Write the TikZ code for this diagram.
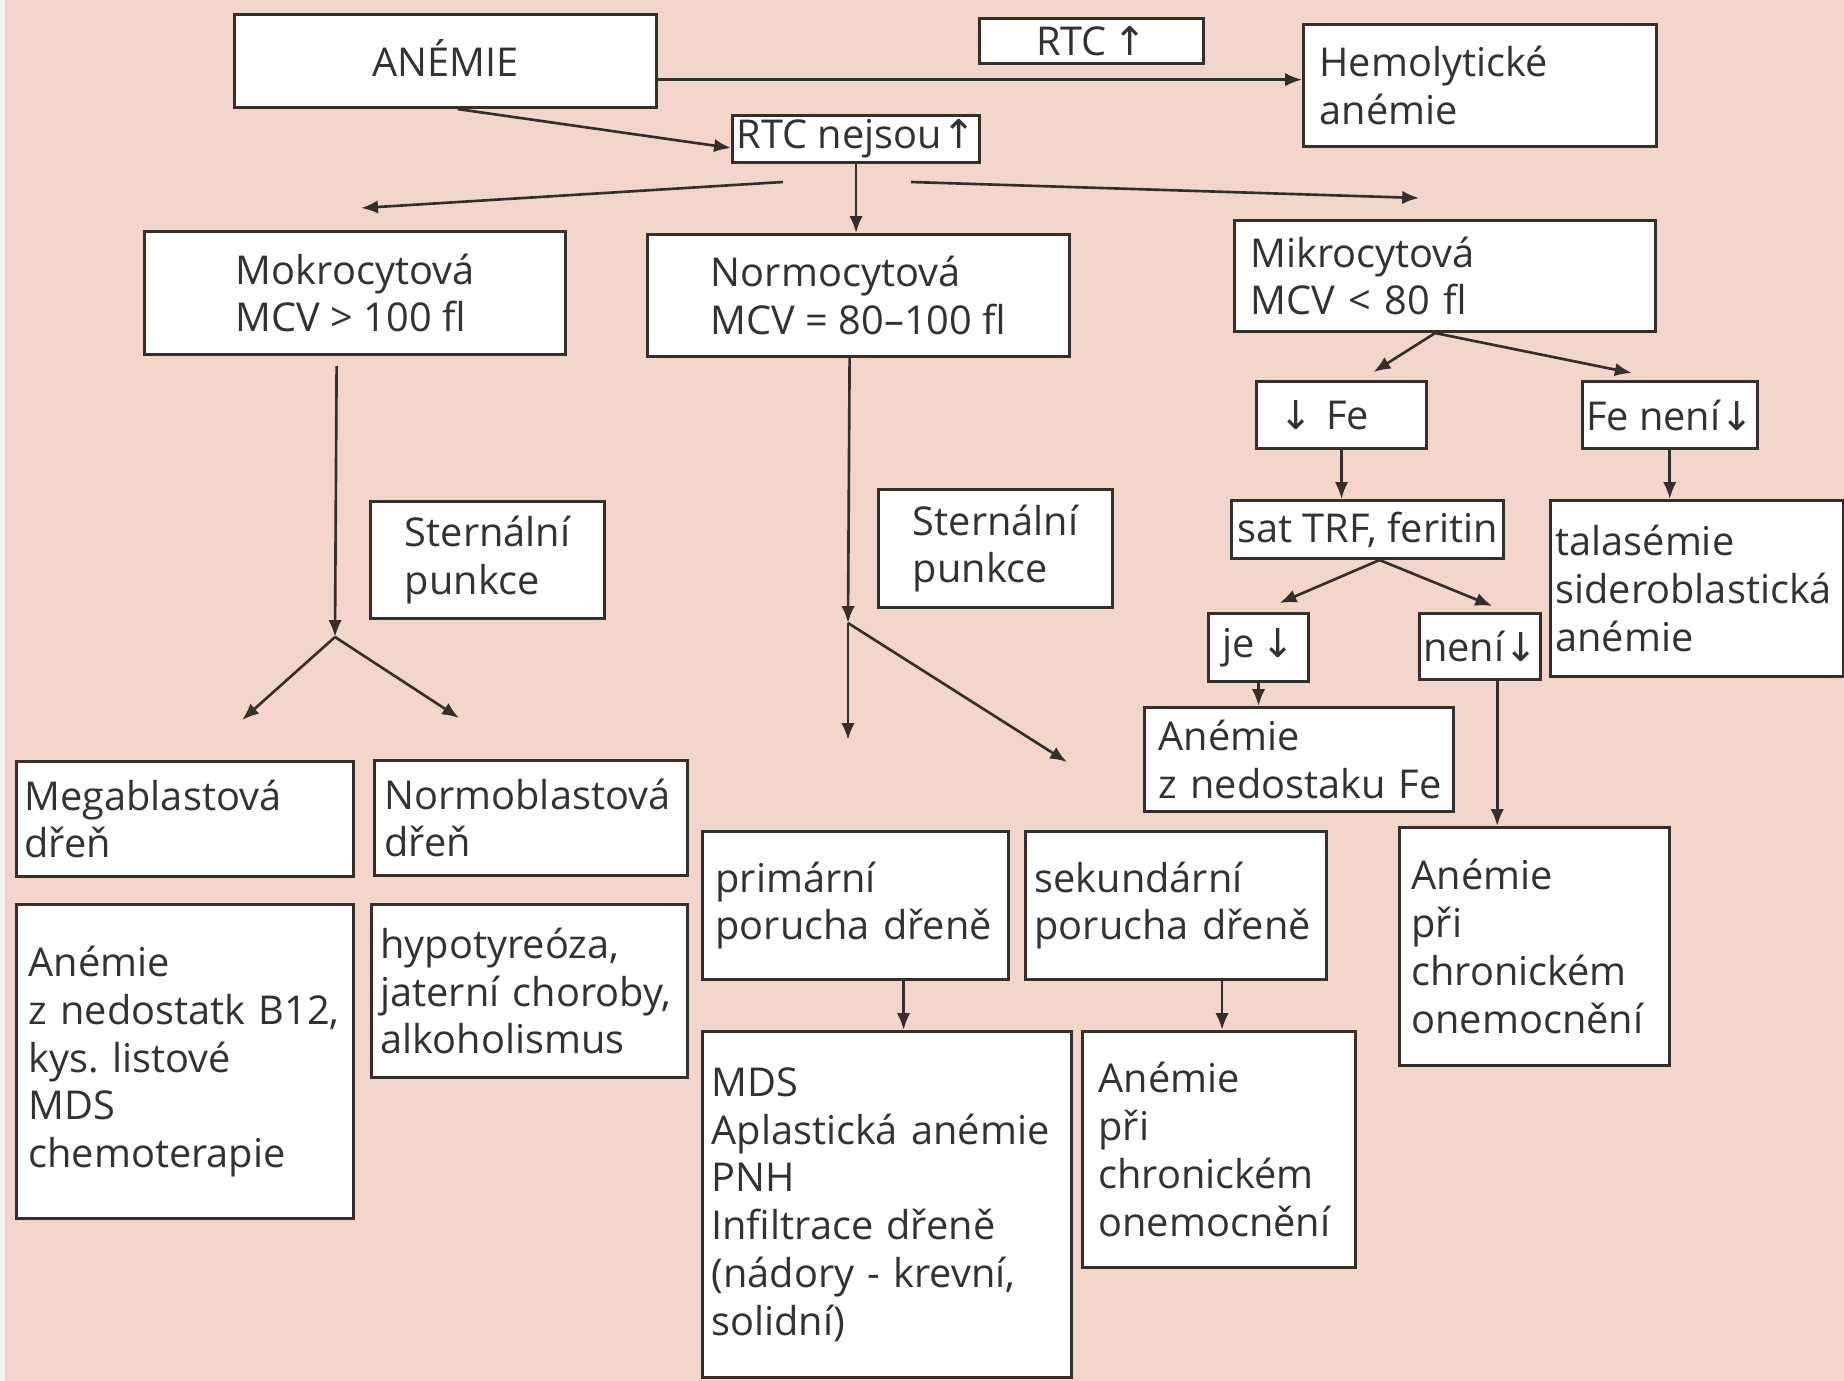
\documentclass[tikz,border=0pt]{standalone}
\usepackage{fontspec}
\setmainfont{Open Sans}
\newfontfamily\arrowfont{DejaVu Sans}
\usepackage{tikz}
\usetikzlibrary{arrows.meta}
\usetikzlibrary{calc}

\definecolor{bgpink}{RGB}{242,213,203}
\definecolor{stripgrey}{RGB}{244,243,239}
\definecolor{edge}{RGB}{55,45,42}
\definecolor{ink}{RGB}{50,50,50}
\newcommand{\arrup}{{\arrowfont ↑}}
\newcommand{\arrdn}{{\arrowfont ↓}}
\hyphenpenalty=10000
\exhyphenpenalty=10000

\tikzset{
	box/.style={draw=edge, line width=0.85pt, fill=white, text=ink, anchor=north west,
		font=\fontsize{11.3pt}{13.6pt}\selectfont, inner sep=1pt, align=left},
	lbox/.style 2 args={box, inner xsep=#1, text width=#2},
}

\begin{document}
\begin{tikzpicture}[x=0.01cm, y=-0.01cm, color=edge, line width=0.75pt,
	>={Latex[length=4.8pt,width=3.8pt]}]
	\fill[bgpink] (0,0) rectangle (1844,1381);
	\fill[stripgrey] (0,0) rectangle (5,1381);
	\useasboundingbox (0,0) rectangle (1844,1381);

	% top row
	\node[box, minimum width=4.22cm, minimum height=0.93cm] (anemie) at (233,13) {\raisebox{2pt}{ANÉMIE}};
	\node[box, minimum width=2.24cm, minimum height=0.45cm] (rtcup) at (978,17) {RTC\,\arrup};
	\node[lbox={0.16cm}{3.21cm}, minimum height=1.22cm] (hemo) at (1302,23) {Hemolytické\\anémie};
	\node[box, minimum width=2.47cm, minimum height=0.47cm] (rtcno) at (731,114) {RTC nejsou\arrup};

	% MCV
	\node[box, minimum width=4.21cm, minimum height=1.23cm] (mokro) at (143,230) {Mokrocytová\\MCV > 100 fl};
	\node[box, minimum width=4.22cm, minimum height=1.22cm] (normo) at (646,233) {Normocytová\\MCV = 80–100 fl};
	\node[lbox={0.16cm}{3.89cm}, minimum height=1.11cm] (mikro) at (1233,219) {Mikrocytová\\MCV < 80 fl};

	% mikrocytova branch
	\node[lbox={0.23cm}{1.24cm}, minimum height=0.67cm] (fe) at (1255,380) {\arrdn~Fe};
	\node[box, minimum width=1.70cm, minimum height=0.67cm] (fenen) at (1581,380) {Fe není\arrdn};
	\node[box, inner xsep=0pt, minimum width=2.72cm, minimum height=0.58cm] (sattrf) at (1230,499) {sat TRF, feritin};
	\node[lbox={0.05cm}{2.83cm}, minimum height=1.76cm] (thal) at (1549,499) {talasémie\\sideroblastická\\anémie};
	\node[box, minimum width=1.00cm, minimum height=0.68cm] (je) at (1207,612) {je\,\arrdn};
	\node[box, minimum width=1.20cm, minimum height=0.66cm] (neni) at (1418,612) {není\arrdn};
	\node[lbox={0.14cm}{2.81cm}, minimum height=1.04cm] (nedfe) at (1143,706) {Anémie\\z~nedostaku~Fe};
	\node[lbox={0.12cm}{2.46cm}, minimum height=2.38cm] (chronr) at (1398,826) {Anémie\\při\\chronickém\\onemocnění};

	% sternalni punkce
	\node[box, minimum width=2.34cm, minimum height=1.17cm] (sternl) at (369,500) {Sternální\\punkce};
	\node[box, minimum width=2.34cm, minimum height=1.18cm] (sternm) at (877,488) {Sternální\\punkce};

	% mokrocytova branch
	\node[lbox={0.08cm}{3.21cm}, minimum height=1.15cm] (mega) at (15,760) {Megablastová\\dřeň};
	\node[lbox={0.10cm}{2.93cm}, minimum height=1.15cm] (normob) at (373,759) {Normoblastová\\dřeň};
	\node[lbox={0.12cm}{3.13cm}, minimum height=3.14cm] (b12) at (15,903) {Anémie\\z~nedostatk~B12,\\kys.~listové\\MDS\\chemoterapie};
	\node[lbox={0.09cm}{2.98cm}, minimum height=1.73cm] (hypo) at (370,903) {hypotyreóza,\\jaterní~choroby,\\alkoholismus};

	% normocytova branch
	\node[lbox={0.13cm}{2.80cm}, minimum height=1.48cm] (prim) at (701,830) {primární\\porucha~dřeně};
	\node[lbox={0.09cm}{2.83cm}, minimum height=1.48cm] (sek) at (1024,830) {sekundární\\porucha~dřeně};
	\node[lbox={0.09cm}{3.51cm}, minimum height=3.46cm] (mds) at (701,1030) {MDS\\Aplastická~anémie\\PNH\\Infiltrace~dřeně\\(nádory~-~krevní,\\solidní)};
	\node[lbox={0.16cm}{2.41cm}, minimum height=2.36cm] (chronm) at (1081,1030) {Anémie\\při\\chronickém\\onemocnění};

	% free ends
	\coordinate (splitl) at (783,182);
	\coordinate (splitr) at (911,182);
	\coordinate (mokrofork) at (335,637);
	\coordinate (normofork) at (848,623);
	\coordinate (mikrofork) at ($(mikro.south)+(-10,0)$);
	\coordinate (satfork) at ($(sattrf.south)+(12,0)$);
	\coordinate (neniout) at ($(neni.south)+(17,0)$);
	\coordinate (primout) at ($(prim.south)+(48,0)$);
	\coordinate (sekout) at ($(sek.south)+(46,0)$);

	\draw[->] (anemie.-5.5) -- (anemie.-5.5 -| hemo.west);
	\draw[->] ($(anemie.south)+(12,0)$) -- ($(rtcno.west)+(0,9)$);
	\draw[->] (rtcno.south) -- (rtcno.south |- normo.north);
	\draw[->] (splitl) -- ($(mokro.north)+(6,-22)$);
	\draw[->] (splitr) -- ($(mikro.north)+(-26,-21)$);

	\draw[->] ($(mokro.south)+(-18.5,10)$) -- (mokrofork);
	\draw[->] (mokrofork) -- ($(mega.north)+(57,-40)$);
	\draw[->] (mokrofork) -- ($(normob.north)+(-72,-41)$);

	\draw[->] ($(normo.south)+(-9,0)$) -- (normofork);
	\draw[->] (normofork) -- (normofork |- 0,740);
	\draw[->] (normofork) -- (1067,762);

	\draw[->] (mikrofork) -- ($(fe.north)+(32,-8)$);
	\draw[->] (mikrofork) -- ($(fenen.north)+(-38,-7)$);
	\draw[->] (fe.south) -- (fe.south |- sattrf.north);
	\draw[->] (fenen.south) -- (fenen.south |- thal.north);
	\draw[->] (satfork) -- ($(je.north)+(21,-9)$);
	\draw[->] (satfork) -- ($(neni.north)+(12,-6)$);
	\draw[->] (je.south) -- (je.south |- nedfe.north);
	\draw[->] (neniout) -- (neniout |- chronr.north);

	\draw[->] (primout) -- (primout |- mds.north);
	\draw[->] (sekout) -- (sekout |- chronm.north);
\end{tikzpicture}
\end{document}
